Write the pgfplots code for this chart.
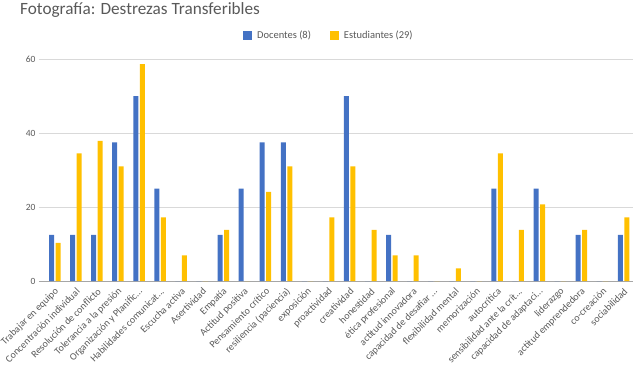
\documentclass[border=0pt]{standalone}
\usepackage{fontspec}
\setmainfont{Carlito}
\usepackage{pgfplots}
\pgfplotsset{compat=1.18}
\definecolor{docblue}{HTML}{4472C4}
\definecolor{estyel}{HTML}{FFC000}
\definecolor{txtgray}{HTML}{595959}
\definecolor{gridgray}{HTML}{D9D9D9}
\definecolor{axgray}{HTML}{A6A6A6}
\newcommand{\dd}{.\kern0pt.\kern0pt.}
\begin{document}
\begin{tikzpicture}[x=1pt,y=1pt]
\useasboundingbox (0,0) rectangle (637,367);
\node[anchor=west, text=txtgray, font=\fontsize{17.2}{20}\selectfont, inner sep=0] at (20,357) {Fotografía: Destrezas Transferibles};
\begin{axis}[
  at={(39pt,86pt)}, anchor=south west,
  scale only axis, width=594pt, height=222pt,
  ybar=1.5pt, bar width=5pt,
  ymin=0, ymax=60, ytick={0,20,40,60},
  xmin=-0.75, xmax=27.45,
  xtick={0,...,27},
  xticklabels={Trabajar en equipo,Concentración individual,Resolución de conflicto,Tolerancia a la presión,{Organización y Planific\dd},{Habilidades comunicat\dd},Escucha activa,Asertividad,Empatía,Actitud positiva,Pensamiento crítico,resiliencia (paciencia),exposición,proactividad,creatividad,honestidad,ética profesional,actitud innovadora,{capacidad de desafiar \dd},flexibilidad mental,memorización,autocrítica,{sensibilidad ante la crít\dd},{capacidad de adaptaci\dd},liderazgo,actitud emprendedora,co-creación,sociabilidad},
  x tick label style={xshift=3pt, yshift=-8pt, rotate=45, anchor=east, font=\fontsize{10}{11}\selectfont, text=txtgray, inner sep=1pt},
  y tick label style={font=\fontsize{9.5}{10}\selectfont, text=txtgray},
  /pgf/number format/assume math mode=true,
  major tick length=0pt,
  axis line style={draw=none},
  ymajorgrids, grid style={gridgray, line width=0.8pt},
  extra y ticks={0}, extra y tick labels={},
  extra y tick style={grid style={axgray, line width=0.9pt}},
  legend style={at={(0.488,1.105)}, anchor=center, draw=none, font=\fontsize{10.5}{11}\selectfont, text=txtgray, legend columns=2, /tikz/every even column/.append style={column sep=17pt}, /tikz/every odd column/.append style={column sep=3pt}},
  legend image code/.code={\fill[#1] (0pt,-4pt) rectangle (9pt,5pt);},
  clip=false,
]
\addplot[fill=docblue, draw=none] coordinates {
(0,12.5) (1,12.5) (2,12.5) (3,37.5) (4,50) (5,25) (6,0) (7,0) (8,12.5) (9,25)
(10,37.5) (11,37.5) (12,0) (13,0) (14,50) (15,0) (16,12.5) (17,0) (18,0) (19,0)
(20,0) (21,25) (22,0) (23,25) (24,0) (25,12.5) (26,0) (27,12.5)};
\addplot[fill=estyel, draw=none] coordinates {
(0,10.3) (1,34.5) (2,37.9) (3,31.0) (4,58.6) (5,17.2) (6,6.9) (7,0) (8,13.8) (9,0)
(10,24.1) (11,31.0) (12,0) (13,17.2) (14,31.0) (15,13.8) (16,6.9) (17,6.9) (18,0) (19,3.4)
(20,0) (21,34.5) (22,13.8) (23,20.7) (24,0) (25,13.8) (26,0) (27,17.2)};
\legend{Docentes (8),Estudiantes (29)}
\end{axis}
\end{tikzpicture}
\end{document}
